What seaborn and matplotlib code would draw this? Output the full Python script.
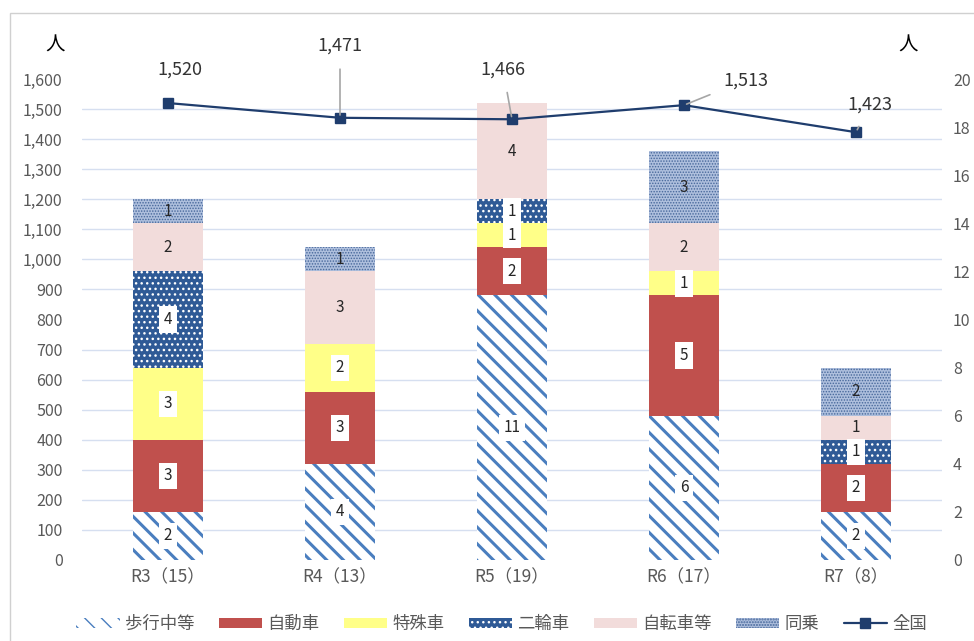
"""
Traffic fatalities by mode: local stacked bars vs national line
"""

import matplotlib
matplotlib.use("Agg")
import matplotlib.pyplot as plt
import matplotlib.patches as mpatches
import matplotlib.lines as mlines
import seaborn as sns
import numpy as np

sns.set_theme(style="white")
plt.rcParams["font.family"] = ["Noto Sans CJK JP", "DejaVu Sans"]

# data
years = ["R3（15）", "R4（13）", "R5（19）", "R6（17）", "R7（8）"]
walking = [2, 4, 11, 6, 2]
car = [3, 3, 2, 5, 2]
special = [3, 2, 1, 1, 0]
twowheel = [4, 0, 1, 0, 1]
bicycle = [2, 3, 4, 2, 1]
passenger = [1, 1, 0, 3, 2]
national = [1520, 1471, 1466, 1513, 1423]

series = [
    ("歩行中等", walking),
    ("自動車", car),
    ("特殊車", special),
    ("二輪車", twowheel),
    ("自転車等", bicycle),
    ("同乗", passenger),
]

# face, hatch colour, hatch, hatch linewidth, boxed label
styles = {
    "歩行中等": ("white", "#4a7ebf", "\\\\", 2.2, True),
    "自動車": ("#c0504d", "#c0504d", None, 1.0, True),
    "特殊車": ("#ffff88", "#ffff88", None, 1.0, True),
    "二輪車": ("#2f5a96", "white", "...", 1.0, True),
    "自転車等": ("#f2dcdb", "#f2dcdb", None, 1.0, False),
    "同乗": ("#aebfdd", "#46679a", "......", 0.7, False),
}

GRAY = "#595959"

fig = plt.figure(figsize=(9.74, 6.41), dpi=100)
ax = fig.add_axes([82 / 974, 81 / 641, 860 / 974, 481 / 641])
ax2 = ax.twinx()

x = np.arange(len(years))
bottom = np.zeros(len(years))
handles = []
for name, vals in series:
    face, hcol, hatch, hlw, boxed = styles[name]
    vals = np.array(vals, dtype=float)
    bars = ax.bar(x, vals, bottom=bottom, width=0.41, color=face,
                  edgecolor=hcol, linewidth=0, hatch=hatch, zorder=2)
    for b in bars:
        try:
            b.set_hatch_linewidth(hlw)
        except AttributeError:
            pass
    for xi, v, b0 in zip(x, vals, bottom):
        if v > 0:
            kw = dict(ha="center", va="center", fontsize=11, color="#262626",
                      zorder=5)
            if boxed:
                kw["bbox"] = dict(boxstyle="square,pad=0.3", fc="white",
                                  ec="none")
            ax.text(xi, b0 + v / 2, f"{int(v)}", **kw)
    h = mpatches.Patch(facecolor=face, edgecolor=hcol, hatch=hatch,
                       linewidth=0, label=name)
    try:
        h.set_hatch_linewidth(hlw)
    except AttributeError:
        pass
    handles.append(h)
    bottom += vals

ax.set_xlim(-0.5, len(years) - 0.5)
ax.set_ylim(0, 20)
ax.set_yticks(np.arange(0, 21, 2))
ax.set_yticks(np.arange(0, 20.01, 1.25), minor=True)
ax.yaxis.tick_right()
ax.grid(False)
ax.grid(True, which="minor", axis="y", color="#d6dff0", linewidth=1, zorder=0)
ax.set_axisbelow(True)
ax.set_xticks(x)
ax.set_xticklabels(years, fontsize=12.5, color=GRAY)
ax.tick_params(axis="y", which="both", length=0, labelsize=11.5,
               labelcolor=GRAY, pad=8)
ax.tick_params(axis="x", length=0, pad=6)
for s in ax.spines.values():
    s.set_visible(False)

# national line on left axis
ax2.plot(x, national, color="#1f3d6d", linewidth=1.6, marker="s",
         markersize=7, zorder=4)
ax2.set_ylim(0, 1600)
ax2.set_yticks(np.arange(0, 1601, 100))
ax2.set_yticklabels([f"{v:,}" for v in range(0, 1601, 100)])
ax2.yaxis.tick_left()
ax2.tick_params(axis="y", length=0, labelsize=11.5, labelcolor=GRAY, pad=14)
ax2.grid(False)
for s in ax2.spines.values():
    s.set_visible(False)

# point labels, offsets in pixels
offsets = [(12, 33), (0, 72), (-9, 50), (62, 25), (14, 28)]
leaders = [False, True, True, True, True]
for xi, v, (dx, dy), lead in zip(x, national, offsets, leaders):
    ax2.annotate(
        f"{v:,}", xy=(xi, v), xytext=(dx, dy), textcoords="offset pixels",
        ha="center", va="center", fontsize=13, color="#333333",
        family=["Noto Sans CJK JP", "DejaVu Sans"],
        arrowprops=dict(arrowstyle="-", color="#a6a6a6", lw=1.2,
                        shrinkA=8, shrinkB=2) if lead else None,
        annotation_clip=False, zorder=6,
    )

# unit labels
fig.text(55 / 974, 1 - 45 / 641, "人", ha="center", va="center",
         fontsize=14, color="black")
fig.text(908 / 974, 1 - 45 / 641, "人", ha="center", va="center",
         fontsize=14, color="black")

# legend
handles.append(mlines.Line2D([], [], color="#1f3d6d", linewidth=1.6,
                             marker="s", markersize=7, label="全国"))
fig.legend(handles=handles, loc="center",
           bbox_to_anchor=(0.515, 1 - 624 / 641),
           ncol=7, frameon=False, fontsize=12.5, labelcolor=GRAY,
           handlelength=2.5, handleheight=0.5, columnspacing=1.4,
           handletextpad=0.3, borderaxespad=0)

# outer frame
fig.add_artist(mpatches.Rectangle((10 / 974, -0.1), 1.2, 1 - 13 / 641 + 0.1,
                                  transform=fig.transFigure, fill=False,
                                  edgecolor="#d0d0d0", linewidth=1))

fig.savefig("out.png", dpi=100)
plt.close(fig)
